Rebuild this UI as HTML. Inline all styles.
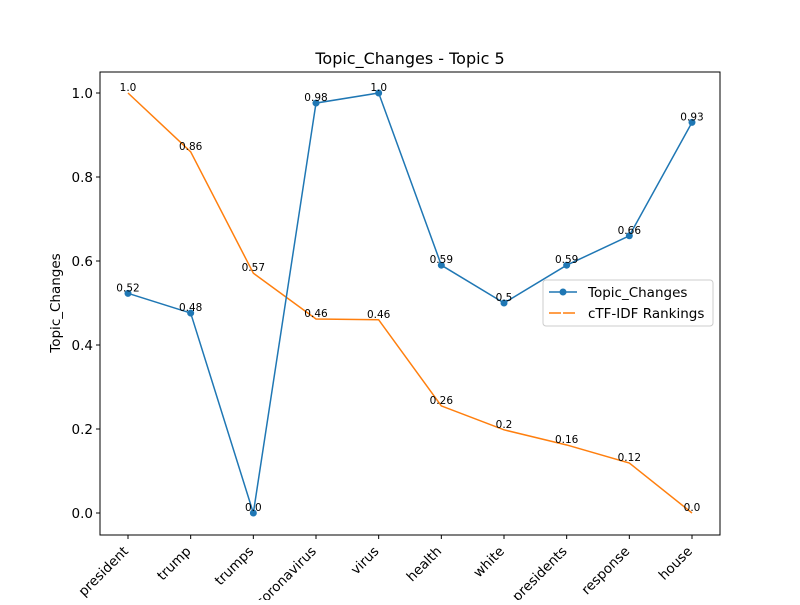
<!DOCTYPE html>
<html><head><meta charset="utf-8"><style>body{margin:0;background:#fff}svg{font-family:"DejaVu Sans","Liberation Sans",sans-serif}</style></head>
<body>
<svg id="chart" width="800" height="600" viewBox="0 0 800 600">
<rect width="800" height="600" fill="#fff"/>
<text x="410" y="64" font-size="16" text-anchor="middle">Topic_Changes - Topic 5</text>
<text transform="translate(60,303) rotate(-90)" font-size="13.5" text-anchor="middle">Topic_Changes</text>
<g id="grid"></g>
<g id="marks"></g>
<rect x="100" y="72" width="620" height="463" fill="none" stroke="#000" stroke-width="1"/>
<g>
<rect x="543" y="280" width="170" height="46" rx="3" fill="#fff" fill-opacity="0.8" stroke="#ccc"/>
<line x1="549" y1="292" x2="577" y2="292" stroke="#1f77b4" stroke-width="1.5"/>
<circle cx="563" cy="292" r="3.5" fill="#1f77b4"/>
<text x="588" y="297" font-size="13.5">Topic_Changes</text>
<line x1="549" y1="313" x2="577" y2="313" stroke="#ff7f0e" stroke-width="1.5" stroke-dasharray="12,2"/>
<text x="588" y="318" font-size="13.5">cTF-IDF Rankings</text>
</g>
</svg>
<script>
const categories=["president","trump","trumps","coronavirus","virus","health","white","presidents","response","house"];
const topicValues=[0.523,0.476,0.0,0.976,1.0,0.59,0.5,0.59,0.66,0.93];
const topicLabels=["0.52","0.48","0.0","0.98","1.0","0.59","0.5","0.59","0.66","0.93"];
const ctfValues=[1.0,0.86,0.571,0.462,0.46,0.255,0.198,0.162,0.119,0.0];
const ctfLabels=["1.0","0.86","0.57","0.46","0.46","0.26","0.2","0.16","0.12","0.0"];
const yTicks=[0.0,0.2,0.4,0.6,0.8,1.0];
const NS="http://www.w3.org/2000/svg";
const xScale=i=>128+i*(692-128)/(categories.length-1);
const yScale=v=>513-v*420;
const grid=document.getElementById('grid'),marks=document.getElementById('marks');
function mk(tag,attrs,parent,text){const e=document.createElementNS(NS,tag);for(const k in attrs)e.setAttribute(k,attrs[k]);if(text!==undefined)e.textContent=text;parent.appendChild(e);return e;}
yTicks.forEach(t=>{const y=yScale(t);
const l=mk('line',{x1:96,x2:100,y1:y,y2:y,stroke:'#000'},grid);


const tx=mk('text',{x:93,y:y+5,'font-size':13.5,'text-anchor':'end'},grid,t.toFixed(1));

});
categories.forEach((c,i)=>{const x=xScale(i);
const l=mk('line',{x1:x,x2:x,y1:535,y2:539,stroke:'#000'},grid);


const tx=mk('text',{transform:`translate(${x+1},${552}) rotate(-45)`,'font-size':13.5,'text-anchor':'end'},grid,c);

});
function series(vals,labels,color,name,markers){
const p=mk('polyline',{points:vals.map((v,i)=>xScale(i)+','+yScale(v)).join(' '),fill:'none',stroke:color,'stroke-width':1.5},marks);


vals.forEach((v,i)=>{
if(markers){const c=mk('circle',{cx:xScale(i),cy:yScale(v),r:3.5,fill:color},marks);

}
const t=mk('text',{x:xScale(i),y:yScale(v)-2,'font-size':10.5,'text-anchor':'middle'},marks,labels[i]);

});}
series(ctfValues,ctfLabels,'#ff7f0e','ctfidf',false);
series(topicValues,topicLabels,'#1f77b4','topic-changes',true);
</script>
</body></html>
